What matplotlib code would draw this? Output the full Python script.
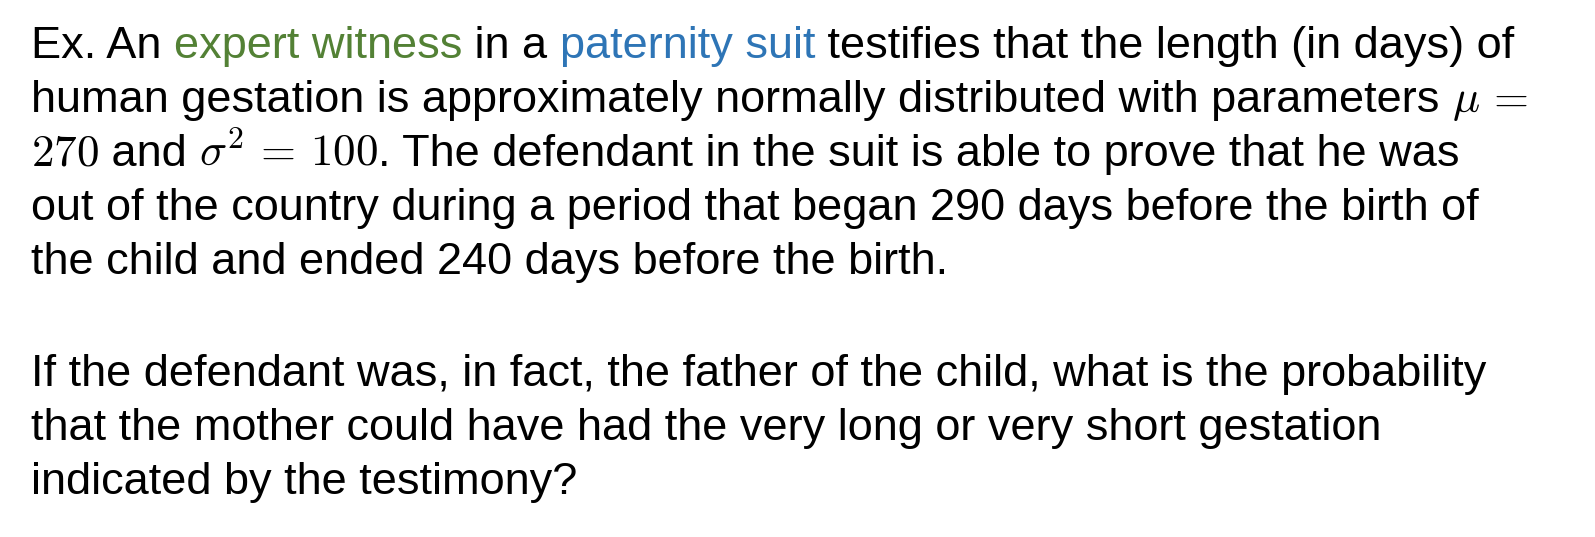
import matplotlib
matplotlib.use("Agg")
import matplotlib.pyplot as plt

plt.rcParams['font.family'] = ['Liberation Sans', 'DejaVu Sans']
plt.rcParams['mathtext.fontset'] = 'cm'

BLACK = "#000000"
GREEN = "#538135"
BLUE = "#2E75B6"

# each line: list of (text, color)
lines = [
    [("Ex. An ", BLACK), ("expert witness", GREEN), (" in a ", BLACK),
     ("paternity suit", BLUE), (" testifies that the length (in days) of", BLACK)],
    [("human gestation is approximately normally distributed with parameters ", BLACK),
     (r"$\mu\,=$", BLACK)],
    [(r"$270$", BLACK), (" and ", BLACK), (r"$\sigma^2\,=\,100$", BLACK),
     (". The defendant in the suit is able to prove that he was", BLACK)],
    [("out of the country during a period that began 290 days before the birth of", BLACK)],
    [("the child and ended 240 days before the birth.", BLACK)],
    [("If the defendant was, in fact, the father of the child, what is the probability", BLACK)],
    [("that the mother could have had the very long or very short gestation", BLACK)],
    [("indicated by the testimony?", BLACK)],
]
baselines = [58, 112, 166, 220, 274, 386, 440, 494]

W, H = 1595, 537
fig = plt.figure(figsize=(W / 100, H / 100), dpi=100)
fig.patch.set_facecolor("white")
renderer = fig.canvas.get_renderer()

for segs, yb in zip(lines, baselines):
    x = 31
    for txt, col in segs:
        t = fig.text(x / W, 1 - yb / H, txt, color=col, fontsize=32.5,
                     va="baseline", ha="left")
        bb = t.get_window_extent(renderer)
        x += bb.width

fig.savefig("out.png", dpi=100, facecolor="white")
